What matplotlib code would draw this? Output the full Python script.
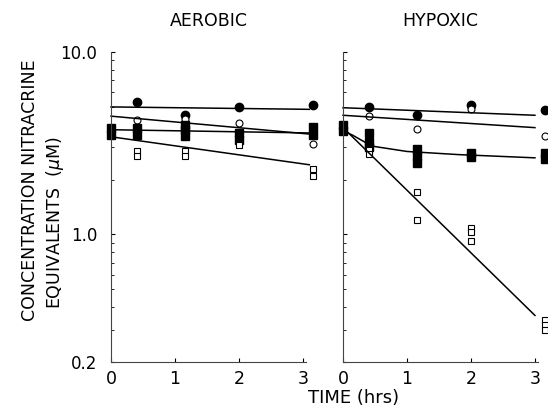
import matplotlib
matplotlib.use('Agg')
import matplotlib.pyplot as plt
from matplotlib.ticker import LogLocator, NullFormatter, FixedLocator, FixedFormatter

# Данные: время (ч) и концентрация (мкМ)
t_pts = [0.4, 1.15, 2.0, 3.15]

# AEROBIC
aer_fc_v = [5.3, 4.5, 5.0, 5.1]          # filled circles
aer_oc_v = [4.25, 4.3, 4.1, 3.15]        # open circles
aer_fs_t = [0, 0, 0.4, 0.4, 1.15, 1.15, 1.15, 2.0, 2.0, 3.15, 3.15]
aer_fs_v = [3.5, 3.85, 3.5, 3.85, 3.45, 3.75, 4.0, 3.3, 3.6, 3.5, 3.9]
aer_os_t = [0.4, 0.4, 1.15, 1.15, 2.0, 3.15, 3.15]
aer_os_v = [2.85, 2.68, 2.85, 2.7, 3.1, 2.27, 2.08]
aer_fit_t = [0, 3.1]
aer_fc_fit = [5.0, 4.85]
aer_oc_fit = [4.45, 3.55]
aer_fs_fit = [3.75, 3.6]
aer_os_fit = [3.43, 2.41]

# HYPOXIC
hyp_fc_v = [5.0, 4.5, 5.1, 4.8]
hyp_oc_v = [4.45, 3.8, 4.85, 3.45]
hyp_fs_t = [0, 0, 0.4, 0.4, 0.4, 1.15, 1.15, 1.15, 2.0, 2.0, 3.15, 3.15]
hyp_fs_v = [3.7, 4.0, 3.6, 3.2, 3.0, 2.45, 2.7, 2.95, 2.65, 2.8, 2.6, 2.8]
hyp_os_t = [0.4, 0.4, 1.15, 1.15, 2.0, 2.0, 2.0, 3.15, 3.15, 3.15]
hyp_os_v = [2.9, 2.75, 1.7, 1.2, 1.08, 1.03, 0.92, 0.34, 0.32, 0.30]
hyp_fit_t = [0, 3.0]
hyp_fc_fit = [4.95, 4.5]
hyp_oc_fit = [4.5, 3.85]
hyp_os_fit = [3.85, 0.36]
hyp_fs_fit_t = [0, 0.15, 0.45, 1.0, 1.8, 3.0]
hyp_fs_fit = [3.7, 3.5, 3.05, 2.85, 2.74, 2.63]

y_ticks = [0.2, 1.0, 10.0]
y_labels = ['0.2', '1.0', '10.0']
x_ticks = [0, 1, 2, 3]

fig = plt.figure(figsize=(5.48, 4.13), dpi=100)
ax1 = fig.add_axes([0.2026, 0.1235, 0.356, 0.7506])
ax2 = fig.add_axes([0.626, 0.1235, 0.356, 0.7506])


def panel(ax, fc_v, oc_v, fs_t, fs_v, os_t, os_v):
    ax.plot(t_pts, fc_v, 'o', color='black', ms=6, clip_on=False)
    ax.plot(t_pts, oc_v, 'o', mfc='white', mec='black', mew=0.8, ms=5, clip_on=False)
    ax.plot(fs_t, fs_v, 's', color='black', ms=6, clip_on=False)
    ax.plot(os_t, os_v, 's', mfc='white', mec='black', mew=0.8, ms=4, clip_on=False)


panel(ax1, aer_fc_v, aer_oc_v, aer_fs_t, aer_fs_v, aer_os_t, aer_os_v)
for fit in [aer_fc_fit, aer_oc_fit, aer_fs_fit, aer_os_fit]:
    ax1.plot(aer_fit_t, fit, color='black', lw=1.1, clip_on=False)

panel(ax2, hyp_fc_v, hyp_oc_v, hyp_fs_t, hyp_fs_v, hyp_os_t, hyp_os_v)
for fit in [hyp_fc_fit, hyp_oc_fit, hyp_os_fit]:
    ax2.plot(hyp_fit_t, fit, color='black', lw=1.1, clip_on=False)
ax2.plot(hyp_fs_fit_t, hyp_fs_fit, color='black', lw=1.1, clip_on=False)

for ax, title in [(ax1, 'AEROBIC'), (ax2, 'HYPOXIC')]:
    ax.set_yscale('log')
    ax.set_ylim(0.2, 10.0)
    ax.set_xlim(0, 3.05)
    ax.spines['top'].set_visible(False)
    ax.spines['right'].set_visible(False)
    ax.spines['left'].set_color('#444444')
    ax.spines['bottom'].set_color('#444444')
    ax.yaxis.set_major_locator(FixedLocator(y_ticks))
    ax.yaxis.set_minor_locator(LogLocator(base=10, subs=range(2, 10)))
    ax.yaxis.set_minor_formatter(NullFormatter())
    ax.set_xticks(x_ticks)
    ax.tick_params(axis='both', which='major', direction='in', length=3)
    ax.tick_params(axis='x', labelsize=12.5, pad=6)
    ax.tick_params(axis='y', labelsize=12, pad=10)
    ax.tick_params(axis='y', which='minor', direction='in', length=2)
    ax.set_title(title, fontsize=12.5, pad=19)

ax1.yaxis.set_major_formatter(FixedFormatter(y_labels))
ax2.yaxis.set_major_formatter(NullFormatter())

fig.text(30 / 548, 1 - 190 / 413, 'CONCENTRATION NITRACRINE', rotation=90,
         ha='center', va='center', fontsize=12.5)
fig.text(55 / 548, 1 - 223 / 413, 'EQUIVALENTS  ($\\mu$M)', rotation=90,
         ha='center', va='center', fontsize=12.5)
fig.text(354 / 548, 1 - 398 / 413, 'TIME (hrs)', ha='center', va='center', fontsize=13)

plt.savefig('out.png', dpi=100)
